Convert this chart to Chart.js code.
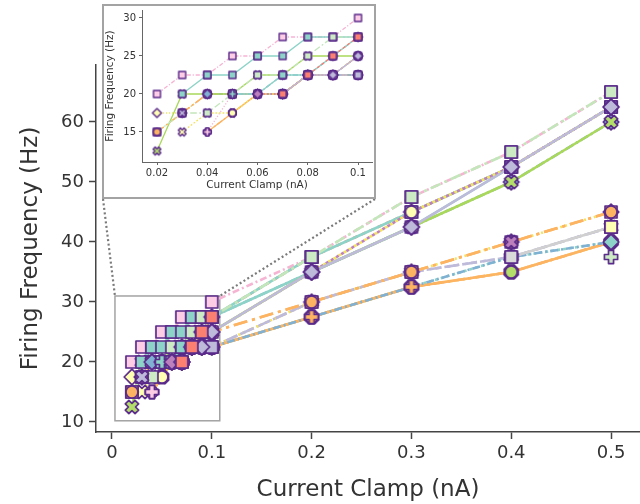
<!DOCTYPE html>
<html>
<head>
<meta charset="utf-8">
<script src="https://cdn.jsdelivr.net/npm/chart.js@4.4.0/dist/chart.umd.min.js"></script>
<style>
  body { margin: 0; background: #fff; }
  #wrap { position: relative; width: 640px; height: 504px; }
  #wrap canvas { display: block; }
  #inset { position: absolute; left: 102px; top: 4px; width: 270px; height: 191px; border: 2px solid #a3a3a3; background: #fff; }
</style>
</head>
<body>
<div id="wrap">
  <canvas id="mainChart" width="640" height="504"></canvas>
  <div id="inset"><canvas id="insetChart" width="270" height="191"></canvas></div>
</div>
<script>
// current steps (nA), first nine are the ones shown in the inset
const currents = [0.02, 0.03, 0.04, 0.05, 0.06, 0.07, 0.08, 0.09, 0.1, 0.2, 0.3, 0.4, 0.5];
const xTicks = [0, 0.1, 0.2, 0.3, 0.4, 0.5];
const yTicks = [10, 20, 30, 40, 50, 60];
const insetXTicks = [0.02, 0.04, 0.06, 0.08, 0.1];
const insetYTicks = [15, 20, 25, 30];

// firing frequency (Hz) per cell
const pinkSquare      = [20, 22.5, 22.5, 25, 25, 27.5, 27.5, 27.5, 30, 37.5, 47.5, 55, 65];
const paleGreenSquare = [15, 17.5, 17.5, 20, 22.5, 22.5, 25, 27.5, 27.5, 37.5, 47.5, 55, 65];
const tealSquare      = [null, 20, 22.5, 22.5, 25, 25, 27.5, 27.5, 27.5, 37.5, 45, 52.5, 62.5];
const redSquare       = [null, null, null, null, null, 20, 22.5, 25, 27.5, 37.5, 45, 52.5, 62.5];
const tealSquare2     = [null, null, null, 20, 20, 22.5, 22.5, 25, 27.5, 35, 42.5, 52.5, 62.5];
const greenCross      = [12.5, 20, 20, 20, 22.5, 22.5, 25, 25, 25, 35, 42.5, 50, 60];
const blueDiamond     = [null, null, 20, 20, 20, 22.5, 22.5, 25, 27.5, 35, 42.5, 50, 60];
const yellowCircle    = [null, null, null, 17.5, 20, 20, 22.5, 22.5, 25, 35, 45, 52.5, 62.5];
const purpleDiamond   = [null, null, null, null, 20, 20, 22.5, 22.5, 25, 35, 45, 52.5, 62.5];
const lavenderDiamond = [null, null, null, null, null, 20, 22.5, 22.5, 25, 35, 42.5, 52.5, 62.5];
const lavenderSquare  = [null, null, null, null, null, null, 22.5, 22.5, 22.5, 30, 35, 37.5, 42.5];
const orangeCircle    = [15, 17.5, 20, 20, 20, 20, 22.5, 22.5, 25, 30, 35, 40, 45];
const orangeSquare    = [15, 17.5, 20, 20, 20, 20, 22.5, 22.5, 25, 30, 35, 40, 45];
const orangePlus      = [null, null, 15, 17.5, 20, 20, 22.5, 22.5, 22.5, 27.5, 32.5, 35, 40];
const orangeCircle2   = [null, null, 15, 17.5, 20, 20, 22.5, 22.5, 22.5, 27.5, 32.5, 35, 40];
const blueCircle      = [null, null, null, null, 20, 20, 22.5, 22.5, 22.5, 27.5, 32.5, 37.5, 40];
const yellowSquare    = [null, null, null, null, null, 20, 22.5, 22.5, 22.5, null, null, null, 42.5];
const tealDiamond     = [null, null, null, null, null, 20, 22.5, 22.5, 22.5, null, null, null, 40];
const greenCircle     = [null, null, null, null, null, 20, 22.5, 22.5, 22.5, null, null, 35, null];
const paleGreenPlus   = [null, null, null, null, null, 20, 22.5, 22.5, 22.5, null, null, null, 37.5];
const greySquare      = [null, null, null, null, null, null, null, null, 22.5, null, null, 37.5, 42.5];
const purpleCross     = [null, null, null, null, null, 20, 22.5, 22.5, 25, null, null, 40, null];
const lavenderCross   = [null, 17.5, 20, 20, 20, 20, 22.5, 22.5, 22.5, 30, 35, 37.5, 42.5];
const yellowDiamond   = [17.5, 17.5, 20, 20, 20, 20, 22.5, 22.5, 22.5, 30, 35, 40, 45];
const yellowCross     = [null, 15, 17.5, 17.5, 20, 20, 22.5, 22.5, 22.5, 27.5, 32.5, 35, 40];
const pinkPlus        = [null, null, 15, 20, 20, 20, 22.5, 22.5, 22.5, 27.5, 32.5, 35, 40];
const tealPlus        = [null, null, null, 20, 20, 20, 22.5, 22.5, 22.5, 27.5, 32.5, 37.5, 40];

const zoomBox = {x0: 0.003, x1: 0.108, y0: 10.2, y1: 31};
const edge = '#5a2a8a';
const fontName = 'DejaVu Sans';

// line order: first is drawn on top
let series = [
    {name: 'paleGreenSquare', values: paleGreenSquare, fill: '#ccebc5', line: '#c3e6bb', shape: 'square', dash: [11, 4, 3, 4]},
    {name: 'lavenderDiamond', values: lavenderDiamond, fill: '#bebada', line: '#bebada', shape: 'diamond', dash: []},
    {name: 'greenCross', values: greenCross, fill: '#b3de69', line: '#a9d85b', shape: 'cross', dash: []},
    {name: 'purpleDiamond', values: purpleDiamond, fill: '#bc80bd', line: '#bc80bd', shape: 'diamond', dash: [3, 3], offset: 3},
    {name: 'yellowCircle', values: yellowCircle, fill: '#ffffb3', line: '#f5e35f', shape: 'circle', dash: [3, 3]},
    {name: 'tealSquare', values: tealSquare, fill: '#8dd3c7', line: '#8dd3c7', shape: 'square', dash: []},
    {name: 'redSquare', values: redSquare, fill: '#fb8072', line: '#fb8072', shape: 'square', dash: [5, 4]},
    {name: 'pinkSquare', values: pinkSquare, fill: '#fccde5', line: '#f6b4d3', shape: 'square', dash: [7, 3, 2, 3]},
    {name: 'tealSquare2', values: tealSquare2, fill: '#8dd3c7', line: '#8dd3c7', shape: 'square', dash: []},
    {name: 'blueDiamond', values: blueDiamond, fill: '#80b1d3', line: '#80b1d3', shape: 'diamond', dash: [9, 3, 2, 3]},
    {name: 'greySquare', values: greySquare, fill: '#d9d9d9', line: '#d0d0d0', shape: 'square', dash: []},
    {name: 'orangeCircle', values: orangeCircle, fill: '#fdb462', line: '#fdb462', shape: 'circle', dash: [14, 5, 3, 5]},
    {name: 'orangeSquare', values: orangeSquare, fill: '#fdb462', line: '#fdb462', shape: 'square', dash: [14, 5, 3, 5]},
    {name: 'lavenderSquare', values: lavenderSquare, fill: '#bebada', line: '#bebada', shape: 'square', dash: [12, 6]},
    {name: 'blueCircle', values: blueCircle, fill: '#80b1d3', line: '#80b1d3', shape: 'circle', dash: [8, 3, 2, 3]},
    {name: 'orangeCircle2', values: orangeCircle2, fill: '#fdb462', line: '#fdb462', shape: 'circle', dash: [10, 4, 3, 4]},
    {name: 'orangePlus', values: orangePlus, fill: '#fdb462', line: '#fdb462', shape: 'plus', dash: []},
    {name: 'tealPlus', values: tealPlus, fill: '#8dd3c7', line: '#8dd3c7', shape: 'plus', dash: [3, 3], offset: 3},
    {name: 'yellowCross', values: yellowCross, fill: '#ffffb3', line: '#f5e35f', shape: 'cross', dash: [3, 3]},
    {name: 'pinkPlus', values: pinkPlus, fill: '#fccde5', line: '#f6b4d3', shape: 'plus', dash: [2, 3]},
    {name: 'yellowDiamond', values: yellowDiamond, fill: '#ffffb3', line: '#f5e35f', shape: 'diamond', dash: [2, 3]},
    {name: 'lavenderCross', values: lavenderCross, fill: '#bebada', line: '#bebada', shape: 'cross', dash: [6, 3]},
    {name: 'yellowSquare', values: yellowSquare, fill: '#ffffb3', line: '#f5e35f', shape: 'square', dash: [2, 3]},
    {name: 'tealDiamond', values: tealDiamond, fill: '#8dd3c7', line: '#8dd3c7', shape: 'diamond', dash: [2, 3]},
    {name: 'greenCircle', values: greenCircle, fill: '#b3de69', line: '#b3de69', shape: 'circle', dash: [6, 3]},
    {name: 'paleGreenPlus', values: paleGreenPlus, fill: '#ccebc5', line: '#ccebc5', shape: 'plus', dash: [6, 3]},
    {name: 'purpleCross', values: purpleCross, fill: '#bc80bd', line: '#bc80bd', shape: 'cross', dash: [2, 3]},
];

// marker stacking, first is on top
const insetOrder = ['redSquare', 'lavenderDiamond', 'lavenderSquare', 'purpleDiamond', 'tealPlus', 'tealSquare2',
    'blueDiamond', 'lavenderCross', 'orangeCircle', 'orangeSquare', 'paleGreenSquare', 'tealSquare', 'yellowCircle',
    'yellowDiamond', 'pinkPlus', 'orangePlus', 'orangeCircle2', 'yellowCross', 'greenCross', 'pinkSquare',
    'blueCircle', 'yellowSquare', 'tealDiamond', 'greenCircle', 'paleGreenPlus', 'greySquare', 'purpleCross'];
const mainOrder = ['paleGreenSquare', 'lavenderDiamond', 'greenCross', 'yellowCircle', 'tealSquare', 'redSquare',
    'pinkSquare', 'tealSquare2', 'blueDiamond', 'purpleDiamond', 'yellowSquare', 'tealDiamond', 'paleGreenPlus',
    'greenCircle', 'purpleCross', 'greySquare', 'orangePlus', 'orangeCircle2', 'orangeCircle', 'orangeSquare',
    'lavenderSquare', 'blueCircle', 'lavenderCross', 'yellowDiamond', 'yellowCross', 'pinkPlus', 'tealPlus'];

const insetCount = currents.filter(c => c <= 0.1).length;

function markerImage(shape, fill, size, stroke) {
    const c = document.createElement('canvas');
    const dim = Math.ceil(size * 1.5) + 2;
    c.width = dim;
    c.height = dim;
    const g = c.getContext('2d');
    g.translate(dim / 2, dim / 2);
    const r = size / 2;
    g.beginPath();
    if (shape === 'square') {
        g.rect(-r, -r, size, size);
    } else if (shape === 'circle') {
        g.arc(0, 0, r, 0, Math.PI * 2);
    } else if (shape === 'diamond') {
        const d = r * 1.3;
        g.moveTo(0, -d); g.lineTo(d, 0); g.lineTo(0, d); g.lineTo(-d, 0);
        g.closePath();
    } else {
        const e = shape === 'cross' ? r * 1.15 : r * 1.1;
        const w = r * 0.42;
        if (shape === 'cross') g.rotate(Math.PI / 4);
        const pts = [[-w, -e], [w, -e], [w, -w], [e, -w], [e, w], [w, w], [w, e], [-w, e], [-w, w], [-e, w], [-e, -w], [-w, -w]];
        pts.forEach((p, i) => i ? g.lineTo(p[0], p[1]) : g.moveTo(p[0], p[1]));
        g.closePath();
    }
    g.fillStyle = fill;
    g.fill();
    g.lineJoin = 'round';
    g.lineWidth = stroke;
    g.strokeStyle = edge;
    g.stroke();
    return c;
}

function xy(values, from, to) {
    let pts = [];
    for (let i = from; i < to; i++) {
        pts.push({x: currents[i], y: values[i]});
    }
    return pts;
}

function scaleStyle(size, tickLen, pad, axisColor, width) {
    return {
        border: {color: axisColor, width: width},
        grid: {drawOnChartArea: false, tickLength: tickLen, tickWidth: width, tickColor: axisColor},
        ticks: {color: '#333', font: {family: fontName, size: size}, padding: pad, autoSkip: false, maxRotation: 0,
            callback: v => String(v)}
    };
}

// keep the plot area where the axes sit in the picture
function fixBox(size, horizontal) {
    return s => {
        if (horizontal) s.height = size; else s.width = size;
        s.paddingLeft = 0;
        s.paddingRight = 0;
        s.paddingTop = 0;
        s.paddingBottom = 0;
    };
}

// main chart
let mainSets = [];
series.forEach((s, i) => {
    mainSets.push({
        data: xy(s.values, 0, currents.length), borderColor: s.line, borderWidth: 2.6, borderDash: s.dash,
        borderDashOffset: s.offset || 0, pointRadius: 0, fill: false, tension: 0, order: 1000 + i
    });
    const big = markerImage(s.shape, s.fill, 12, 1.7);
    mainSets.push({
        data: xy(s.values, 0, insetCount), showLine: false, pointStyle: big, pointRadius: 6,
        order: 100 + insetOrder.indexOf(s.name)
    });
    mainSets.push({
        data: xy(s.values, insetCount, currents.length), showLine: false, pointStyle: big, pointRadius: 6,
        order: 200 + mainOrder.indexOf(s.name)
    });
});

const zoomLines = {
    id: 'zoomLines',
    beforeDatasetsDraw(chart) {
        const {ctx, scales: {x, y}} = chart;
        const l = x.getPixelForValue(zoomBox.x0), r = x.getPixelForValue(zoomBox.x1);
        const t = y.getPixelForValue(zoomBox.y1), b = y.getPixelForValue(zoomBox.y0);
        ctx.save();
        ctx.strokeStyle = '#a3a3a3';
        ctx.lineWidth = 1.5;
        ctx.strokeRect(l, t, r - l, b - t);
        ctx.restore();
    },
    afterDatasetsDraw(chart) {
        const {ctx, scales: {x, y}} = chart;
        const l = x.getPixelForValue(zoomBox.x0), r = x.getPixelForValue(zoomBox.x1);
        const t = y.getPixelForValue(zoomBox.y1);
        const box = document.getElementById('inset');
        const bl = box.offsetLeft + 1, br = box.offsetLeft + box.offsetWidth - 1;
        const bb = box.offsetTop + box.offsetHeight;
        ctx.save();
        ctx.strokeStyle = '#7a7a7a';
        ctx.lineWidth = 2.2;
        ctx.setLineDash([2, 2.5]);
        ctx.beginPath();
        ctx.moveTo(bl, bb); ctx.lineTo(l, t);
        ctx.moveTo(br, bb); ctx.lineTo(r, t);
        ctx.stroke();
        ctx.restore();
    }
};

let xMain = scaleStyle(18, 7, 4, '#444', 1.5);
let yMain = scaleStyle(18, 7, 5, '#444', 1.5);

new Chart(document.getElementById('mainChart'), {
    type: 'line',
    data: {datasets: mainSets},
    options: {
        responsive: false,
        animation: false,
        events: [],
        layout: {autoPadding: false, padding: {top: 65, right: 0, left: 0, bottom: 0}},
        plugins: {legend: {display: false}, tooltip: {enabled: false}},
        scales: {
            x: Object.assign(xMain, {
                type: 'linear', min: -0.016, max: 0.529,
                afterBuildTicks: s => { s.ticks = xTicks.map(v => ({value: v})); },
                afterFit: fixBox(72, true),
                title: {display: true, text: 'Current Clamp (nA)', color: '#333',
                    font: {family: fontName, size: 23}, padding: {top: 0, bottom: 0}}
            }),
            y: Object.assign(yMain, {
                type: 'linear', min: 8.33, max: 69.5,
                afterBuildTicks: s => { s.ticks = yTicks.map(v => ({value: v})); },
                afterFit: fixBox(96, false),
                title: {display: true, text: 'Firing Frequency (Hz)', color: '#333',
                    font: {family: fontName, size: 23}, padding: {top: 17, bottom: 0}}
            })
        }
    },
    plugins: [zoomLines]
});

// inset chart
let insetSets = [];
series.forEach((s, i) => {
    insetSets.push({
        data: xy(s.values, 0, insetCount), borderColor: s.line, borderWidth: 1.3,
        borderDash: s.dash.map(d => d * 0.6), borderDashOffset: (s.offset || 0) * 0.6,
        pointRadius: 0, fill: false, tension: 0, order: 1000 + i
    });
    insetSets.push({
        data: xy(s.values, 0, insetCount), showLine: false,
        pointStyle: markerImage(s.shape, s.fill, 7, 1.4), pointRadius: 3.5,
        order: 100 + insetOrder.indexOf(s.name)
    });
});

let xIn = scaleStyle(10, 3, 2, '#666', 1);
let yIn = scaleStyle(10, 3, 3, '#666', 1);

new Chart(document.getElementById('insetChart'), {
    type: 'line',
    data: {datasets: insetSets},
    options: {
        responsive: false,
        animation: false,
        events: [],
        layout: {autoPadding: false, padding: {top: 4, right: 2, left: 0, bottom: 0}},
        plugins: {legend: {display: false}, tooltip: {enabled: false}},
        scales: {
            x: Object.assign(xIn, {
                type: 'linear', min: 0.01403, max: 0.10557,
                afterBuildTicks: s => { s.ticks = insetXTicks.map(v => ({value: v})); },
                afterFit: fixBox(35, true),
                title: {display: true, text: 'Current Clamp (nA)', color: '#333',
                    font: {family: fontName, size: 10.5}, padding: {top: 0, bottom: 5}}
            }),
            y: Object.assign(yIn, {
                type: 'linear', min: 11.05, max: 31.05,
                afterBuildTicks: s => { s.ticks = insetYTicks.map(v => ({value: v})); },
                afterFit: fixBox(38, false),
                title: {display: true, text: 'Firing Frequency (Hz)', color: '#333',
                    font: {family: fontName, size: 10.5}, padding: {top: 0, bottom: 0}}
            })
        }
    }
});
</script>
</body>
</html>
